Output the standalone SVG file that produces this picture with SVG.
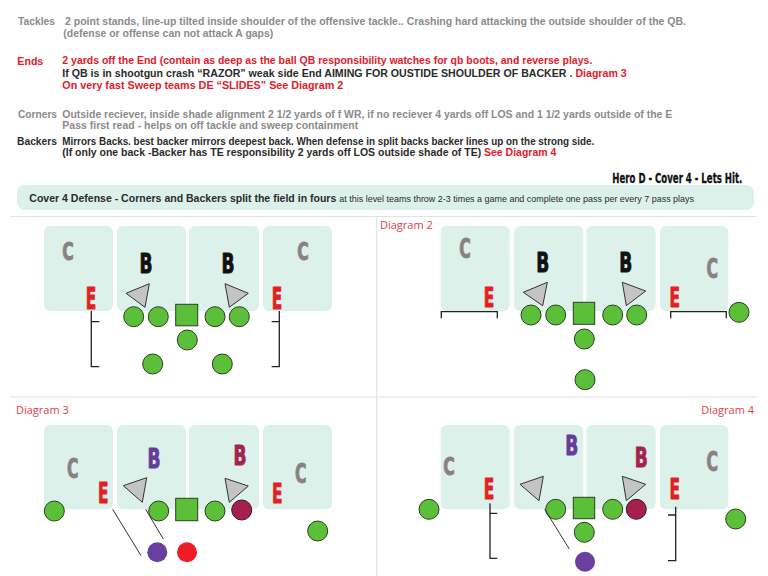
<svg xmlns="http://www.w3.org/2000/svg" width="768" height="576" viewBox="0 0 768 576">
<style>
.t{font-family:"Liberation Sans",Arial,sans-serif;font-size:11px;font-weight:bold}
.g{fill:#8b8b8b}.r{fill:#e2202a}.k{fill:#2b2b2b}
.box{fill:#dcf1e9}
.p{fill:#5cbf3a;stroke:#2b4020;stroke-width:1}
.pu{fill:#6a3fa0}.rd{fill:#ee1d25}.mr{fill:#a6204f;stroke:#3a1020;stroke-width:1}
.tri{fill:#c4c4c4;stroke:#333;stroke-width:1}
.br{fill:none;stroke:#222;stroke-width:1.3}
.ln{stroke:#333;stroke-width:1}
.L{font-family:"Liberation Sans Narrow","DejaVu Sans Condensed","DejaVu Sans",sans-serif;font-weight:bold;text-anchor:middle;stroke-width:0.9;stroke-linejoin:round}
.C{fill:#8a8082;stroke:#8a8082}.B{fill:#111;stroke:#111}.E{fill:#e31e24;stroke:#e31e24}.BP{fill:#643c9a;stroke:#643c9a}.BM{fill:#a6214f;stroke:#a6214f}
.d{font-family:"Open Sans","Noto Sans",sans-serif;font-size:11px;fill:#e0404e}
.div{stroke:#e2e2e2;stroke-width:1.2;fill:none}
</style>
<rect width="768" height="576" fill="#fff"/>

<g id="notes">
<text class="t g" x="18" y="24.5" textLength="37" lengthAdjust="spacingAndGlyphs">Tackles</text>
<text class="t g" x="65" y="24.5" textLength="621" lengthAdjust="spacingAndGlyphs">2 point stands, line-up tilted inside shoulder of the offensive tackle.. Crashing hard attacking the outside shoulder of the QB.</text>
<text class="t g" x="63.3" y="36.5" textLength="210" lengthAdjust="spacingAndGlyphs">(defense or offense can not attack A gaps)</text>

<text class="t r" x="17.3" y="64.5" textLength="26" lengthAdjust="spacingAndGlyphs">Ends</text>
<text class="t r" x="62.3" y="64" textLength="530" lengthAdjust="spacingAndGlyphs">2 yards off the End (contain as deep as the ball QB responsibility watches for qb boots, and reverse plays.</text>
<text class="t k" x="62.3" y="76.5" textLength="564.4" lengthAdjust="spacingAndGlyphs">If QB is in shootgun crash “RAZOR” weak side End AIMING FOR OUSTIDE SHOULDER OF BACKER .  <tspan class="r">Diagram 3</tspan></text>
<text class="t r" x="62.3" y="89" textLength="281" lengthAdjust="spacingAndGlyphs">On very fast Sweep teams DE  “SLIDES” See  Diagram 2</text>

<text class="t g" x="18" y="117.5" textLength="39" lengthAdjust="spacingAndGlyphs">Corners</text>
<text class="t g" x="62.3" y="117.5" textLength="610" lengthAdjust="spacingAndGlyphs">Outside reciever, inside shade alignment 2 1/2 yards of f WR, if no reciever 4 yards off LOS and 1 1/2 yards outside of the E</text>
<text class="t g" x="62.3" y="128.5" textLength="296" lengthAdjust="spacingAndGlyphs">Pass first read - helps on off tackle and sweep containment</text>

<text class="t k" x="17" y="145" textLength="40" lengthAdjust="spacingAndGlyphs">Backers</text>
<text class="t k" x="62.3" y="145" textLength="532" lengthAdjust="spacingAndGlyphs">Mirrors Backs. best backer mirrors deepest back. When defense in split backs backer lines up on the strong side.</text>
<text class="t k" x="62.3" y="156" textLength="494" lengthAdjust="spacingAndGlyphs">(If only one back -Backer has TE responsibility 2 yards off LOS outside shade of TE) <tspan class="r">See Diagram 4</tspan></text>

<text x="742.3" y="183.3" text-anchor="end" font-family="Liberation Sans Narrow,DejaVu Sans Condensed,DejaVu Sans,sans-serif" font-weight="bold" font-size="14" fill="#111" stroke="#111" stroke-width="0.3" textLength="130" lengthAdjust="spacingAndGlyphs">Hero D - Cover 4 - Lets Hit.</text>

<rect x="17" y="185" width="737" height="25" rx="8" class="box"/>
<text class="t k" x="29.3" y="202" textLength="307" lengthAdjust="spacingAndGlyphs">Cover 4 Defense - Corners and Backers split the field in fours</text>
<text x="339.3" y="201.5" font-family="Liberation Sans,Arial,sans-serif" font-size="9" fill="#2b2b2b" textLength="354.7" lengthAdjust="spacingAndGlyphs">at this level teams throw 2-3 times a game and complete one pass per every 7 pass plays</text>
</g>

<g id="dividers">
<line class="div" x1="10" y1="216.5" x2="756" y2="216.5"/>
<line class="div" x1="10" y1="397" x2="757" y2="397"/>
<line class="div" x1="376.7" y1="216.5" x2="376.7" y2="576"/>
</g>

<g id="diagram1">
<rect class="box" x="44" y="226" width="69" height="85" rx="6"/>
<rect class="box" x="117" y="226" width="69" height="85" rx="6"/>
<rect class="box" x="189" y="226" width="70" height="85" rx="6"/>
<rect class="box" x="263" y="226" width="69" height="85" rx="6"/>
<text class="L C" x="68" y="260" font-size="25" textLength="11.5" lengthAdjust="spacingAndGlyphs">C</text>
<text class="L B" x="146" y="273" font-size="26" textLength="13" lengthAdjust="spacingAndGlyphs">B</text>
<text class="L B" x="228" y="273" font-size="26" textLength="13" lengthAdjust="spacingAndGlyphs">B</text>
<text class="L C" x="303" y="260" font-size="25" textLength="11.5" lengthAdjust="spacingAndGlyphs">C</text>
<text class="L E" x="91" y="309" font-size="31" textLength="10.5" lengthAdjust="spacingAndGlyphs">E</text>
<text class="L E" x="277" y="309" font-size="31" textLength="10.5" lengthAdjust="spacingAndGlyphs">E</text>
<polygon class="tri" points="126,293.3 149.3,283.7 145,307.3"/>
<polygon class="tri" points="225,283.7 248.3,293.3 229.3,307.3"/>
<circle class="p" cx="133.7" cy="316.7" r="10"/>
<circle class="p" cx="158.3" cy="316.7" r="10"/>
<circle class="p" cx="215" cy="316.7" r="10"/>
<circle class="p" cx="239.3" cy="316.7" r="10"/>
<circle class="p" cx="187.3" cy="340" r="10"/>
<circle class="p" cx="152.7" cy="364" r="10"/>
<circle class="p" cx="222.3" cy="364" r="10"/>
<rect class="p" x="175.7" y="304.3" width="22" height="21.5"/>
<path class="br" d="M91.3,311 V366.7 H99.3 M91.3,321.7 H99.3"/>
<path class="br" d="M279.3,311 V366.7 H271.7 M279.3,321.7 H271.7"/>
</g>

<g id="diagram2">
<text class="d" x="380" y="229">Diagram 2</text>
<rect class="box" x="440.7" y="226" width="69" height="85" rx="6"/>
<rect class="box" x="514" y="226" width="69.3" height="85" rx="6"/>
<rect class="box" x="586.3" y="226" width="69.4" height="85" rx="6"/>
<rect class="box" x="660" y="226" width="68.3" height="85" rx="6"/>
<text class="L C" x="465" y="258.3" font-size="26" textLength="11.5" lengthAdjust="spacingAndGlyphs">C</text>
<text class="L B" x="542.7" y="271.7" font-size="27" textLength="13" lengthAdjust="spacingAndGlyphs">B</text>
<text class="L B" x="625.7" y="271.7" font-size="27" textLength="13" lengthAdjust="spacingAndGlyphs">B</text>
<text class="L C" x="712.3" y="277.7" font-size="26" textLength="11.5" lengthAdjust="spacingAndGlyphs">C</text>
<text class="L E" x="489" y="306.7" font-size="26" textLength="10.5" lengthAdjust="spacingAndGlyphs">E</text>
<text class="L E" x="674.7" y="306.7" font-size="26" textLength="10.5" lengthAdjust="spacingAndGlyphs">E</text>
<polygon class="tri" points="523.3,292.3 547.3,282.3 542.7,305.7"/>
<polygon class="tri" points="622.3,282.3 645.7,291 626.3,305.7"/>
<circle class="p" cx="531" cy="315" r="10"/>
<circle class="p" cx="555.7" cy="315" r="10"/>
<circle class="p" cx="612.7" cy="315" r="10"/>
<circle class="p" cx="636.7" cy="315" r="10"/>
<circle class="p" cx="584.3" cy="339" r="10"/>
<circle class="p" cx="585" cy="379.7" r="10"/>
<circle class="p" cx="739" cy="312.3" r="10"/>
<rect class="p" x="573.3" y="302.3" width="21.4" height="22"/>
<path class="br" d="M441.3,318.3 V311.7 H497.3 V318.3"/>
<path class="br" d="M670.7,318.3 V311.7 H726.3 V318.3"/>
</g>

<g id="diagram3">
<text class="d" x="16" y="414">Diagram 3</text>
<rect class="box" x="44" y="425" width="69" height="84.3" rx="6"/>
<rect class="box" x="117" y="425" width="69" height="84.3" rx="6"/>
<rect class="box" x="189" y="425" width="70" height="84.3" rx="6"/>
<rect class="box" x="263" y="425" width="69" height="84.3" rx="6"/>
<text class="L C" x="72.7" y="478.3" font-size="26" textLength="11.5" lengthAdjust="spacingAndGlyphs">C</text>
<text class="L BP" x="154" y="467.7" font-size="26" textLength="13" lengthAdjust="spacingAndGlyphs">B</text>
<text class="L BM" x="240" y="465" font-size="26" textLength="13" lengthAdjust="spacingAndGlyphs">B</text>
<text class="L C" x="300.7" y="483.3" font-size="26" textLength="11.5" lengthAdjust="spacingAndGlyphs">C</text>
<text class="L E" x="103.3" y="503.3" font-size="29" textLength="10.5" lengthAdjust="spacingAndGlyphs">E</text>
<text class="L E" x="277.3" y="503.3" font-size="27" textLength="10.5" lengthAdjust="spacingAndGlyphs">E</text>
<polygon class="tri" points="123.3,485.7 146.7,477.7 142.3,502.3"/>
<polygon class="tri" points="225,478.3 248.3,486 229.3,502.3"/>
<circle class="p" cx="54.3" cy="511" r="10"/>
<circle class="p" cx="158.7" cy="511" r="10"/>
<circle class="p" cx="215" cy="511" r="10"/>
<circle class="p" cx="317.7" cy="531" r="10"/>
<circle class="mr" cx="241.7" cy="510" r="10"/>
<rect class="p" x="175.7" y="498.3" width="22" height="22.4"/>
<circle class="pu" cx="157.3" cy="552.3" r="10"/>
<circle class="rd" cx="187" cy="552.3" r="10"/>
</g>

<g id="diagram4">
<text class="d" x="754" y="414" text-anchor="end">Diagram 4</text>
<rect class="box" x="440.7" y="425" width="69" height="84.3" rx="6"/>
<rect class="box" x="514" y="425" width="69.3" height="84.3" rx="6"/>
<rect class="box" x="586.3" y="425" width="69.4" height="84.3" rx="6"/>
<rect class="box" x="660" y="425" width="68.3" height="84.3" rx="6"/>
<text class="L C" x="449" y="475" font-size="25" textLength="11.5" lengthAdjust="spacingAndGlyphs">C</text>
<text class="L BP" x="571.7" y="455" font-size="27" textLength="13" lengthAdjust="spacingAndGlyphs">B</text>
<text class="L BM" x="641.3" y="466.7" font-size="26" textLength="13" lengthAdjust="spacingAndGlyphs">B</text>
<text class="L C" x="712.3" y="471" font-size="26" textLength="11.5" lengthAdjust="spacingAndGlyphs">C</text>
<text class="L E" x="489" y="499" font-size="28" textLength="10.5" lengthAdjust="spacingAndGlyphs">E</text>
<text class="L E" x="674.7" y="499" font-size="28" textLength="10.5" lengthAdjust="spacingAndGlyphs">E</text>
<polygon class="tri" points="520,484.3 543.3,476.3 539,500.7"/>
<polygon class="tri" points="622.3,476.3 645.7,484.3 626.3,500.7"/>
<circle class="p" cx="429" cy="509.3" r="10"/>
<circle class="p" cx="555.7" cy="509.3" r="10"/>
<circle class="p" cx="612.7" cy="509.3" r="10"/>
<circle class="mr" cx="636.3" cy="509.3" r="10"/>
<circle class="p" cx="584.3" cy="532.3" r="10"/>
<circle class="p" cx="735.7" cy="519" r="10"/>
<rect class="p" x="573.3" y="497.3" width="21.4" height="21.4"/>
<circle class="pu" cx="585" cy="561.7" r="10"/>
<path class="br" d="M490,503.3 V558.3 H497.3 M490,513.3 H497.3"/>
<path class="br" d="M675.7,506.7 V560.7 H668 M675.7,515 H668"/>
</g>

<g id="connectors">
<line class="ln" x1="112.7" y1="509.3" x2="141" y2="555.7"/>
<line class="ln" x1="145.7" y1="509.3" x2="163.3" y2="539"/>
<line class="ln" x1="544.7" y1="509.3" x2="569.3" y2="549"/>
</g>
</svg>
